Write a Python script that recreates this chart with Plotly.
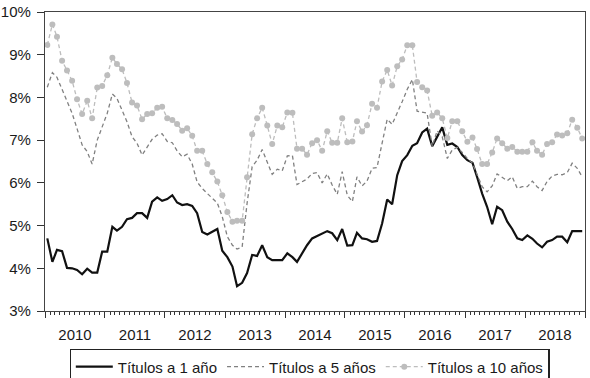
import pandas as pd
import plotly.graph_objects as go

# Monthly observations, Jan 2010 - Dec 2018
months = pd.date_range("2010-01-01", periods=108, freq="MS") + pd.Timedelta(days=14)

tit_1 = [
    4.70, 4.15, 4.43, 4.40, 4.01, 4.00, 3.96, 3.86, 3.99, 3.90, 3.90, 4.39,
    4.39, 4.97, 4.88, 4.97, 5.15, 5.18, 5.29, 5.29, 5.18, 5.56, 5.66, 5.58,
    5.62, 5.71, 5.54, 5.48, 5.50, 5.46, 5.29, 4.85, 4.79, 4.85, 4.92, 4.41,
    4.26, 4.04, 3.58, 3.66, 3.89, 4.31, 4.29, 4.54, 4.26, 4.19, 4.19, 4.19,
    4.35, 4.26, 4.15, 4.36, 4.54, 4.70, 4.76, 4.82, 4.87, 4.82, 4.66, 4.92,
    4.53, 4.54, 4.83, 4.70, 4.68, 4.62, 4.64, 5.05, 5.61, 5.50, 6.18, 6.51,
    6.65, 6.87, 6.93, 7.18, 7.27, 6.86, 7.08, 7.30, 6.89, 6.92, 6.84, 6.65,
    6.53, 6.47, 6.14, 5.75, 5.44, 5.03, 5.44, 5.36, 5.09, 4.92, 4.70, 4.66,
    4.77, 4.69, 4.58, 4.49, 4.62, 4.66, 4.74, 4.74, 4.61, 4.87, 4.87, 4.87,
]

tit_5 = [
    8.24, 8.58, 8.47, 8.19, 7.94, 7.63, 7.27, 6.89, 6.73, 6.44, 7.00, 7.31,
    7.63, 8.08, 7.98, 7.70, 7.43, 7.08, 6.93, 6.65, 6.85, 7.02, 7.12, 7.15,
    6.97, 6.94, 6.75, 6.61, 6.67, 6.44, 6.02, 5.87, 5.75, 5.64, 5.53, 5.21,
    4.74, 4.54, 4.45, 4.50, 5.52, 6.38, 6.53, 6.78, 6.46, 6.20, 6.32, 6.28,
    6.63, 6.64, 5.96, 6.03, 6.09, 6.22, 6.24, 6.00, 6.21, 5.95, 5.73, 6.26,
    5.71, 5.56, 6.14, 5.93, 6.04, 6.34, 6.36, 6.93, 7.49, 7.37, 7.63, 7.90,
    8.19, 8.42, 7.68, 7.65, 7.63, 6.85, 7.22, 7.08, 6.57, 6.77, 6.83, 6.71,
    6.57, 6.46, 6.21, 5.91, 5.79, 5.93, 6.21, 6.14, 6.05, 6.14, 5.87, 5.91,
    5.91, 6.04, 5.91, 5.82, 6.03, 6.16, 6.20, 6.19, 6.24, 6.46, 6.34, 6.14,
]

tit_10 = [
    9.23, 9.71, 9.42, 8.86, 8.63, 8.39, 7.96, 7.61, 7.92, 7.51, 8.23, 8.27,
    8.52, 8.93, 8.78, 8.66, 8.34, 7.88, 7.81, 7.49, 7.61, 7.63, 7.76, 7.78,
    7.51, 7.47, 7.38, 7.22, 7.28, 7.10, 6.75, 6.75, 6.44, 6.25, 6.03, 5.71,
    5.32, 5.09, 5.11, 5.11, 6.13, 7.14, 7.51, 7.76, 7.34, 6.91, 7.34, 7.30,
    7.65, 7.64, 6.80, 6.80, 6.66, 6.93, 7.00, 6.75, 7.21, 6.94, 6.94, 7.51,
    6.95, 6.97, 7.44, 7.20, 7.35, 7.85, 7.76, 8.37, 8.64, 8.28, 8.73, 8.89,
    9.22, 9.22, 8.36, 8.24, 8.16, 7.57, 7.65, 7.51, 7.05, 7.44, 7.44, 7.21,
    6.96, 7.06, 6.79, 6.44, 6.44, 6.71, 7.04, 6.93, 6.80, 6.84, 6.73, 6.73,
    6.73, 6.95, 6.75, 6.66, 6.91, 6.95, 7.13, 7.11, 7.16, 7.48, 7.29, 7.04,
]

names = ["Títulos a 1 año", "Títulos a 5 años", "Títulos a 10 años"]
y_ticks = [3, 4, 5, 6, 7, 8, 9, 10]
y_tick_labels = ["3%", "4%", "5%", "6%", "7%", "8%", "9%", "10%"]

FONT = "Liberation Sans, Arial, sans-serif"

fig = go.Figure()
fig.add_trace(go.Scatter(
    x=months, y=tit_1, name=names[0], mode="lines",
    line=dict(color="#111111", width=2.2),
))
fig.add_trace(go.Scatter(
    x=months, y=tit_5, name=names[1], mode="lines",
    line=dict(color="#808080", width=1.3, dash="4px,3px"),
))
fig.add_trace(go.Scatter(
    x=months, y=tit_10, name=names[2], mode="lines+markers",
    line=dict(color="#bdbdbd", width=1.3, dash="4px,3px"),
    marker=dict(color="#bdbdbd", size=6),
))

fig.update_layout(
    width=590, height=378,
    margin=dict(l=45, r=5, t=12, b=67, autoexpand=False),
    paper_bgcolor="white", plot_bgcolor="white",
    font=dict(family=FONT, size=15, color="#1a1a1a"),
    showlegend=True,
    legend=dict(
        orientation="h", x=0.49, xanchor="center", y=-0.128, yanchor="top",
        bordercolor="#222222", borderwidth=1.2,
        font=dict(family=FONT, size=15, color="#1a1a1a"),
        tracegroupgap=0, itemwidth=37,
    ),
)

fig.update_xaxes(
    type="date",
    range=["2010-01-01", "2019-01-01"],
    tick0="2010-01-01", dtick="M12",
    ticklabelmode="period", tickformat="%Y",
    ticks="outside", ticklen=6, tickwidth=1, tickcolor="#333333",
    minor=dict(dtick="M1", ticks="outside", ticklen=3, tickwidth=1,
               tickcolor="#333333", showgrid=False),
    showgrid=False, zeroline=False,
    showline=True, linecolor="#444444", linewidth=1.3, mirror=True,
    ticklabelstandoff=4,
    tickfont=dict(family=FONT, size=15, color="#1a1a1a"),
)

fig.update_yaxes(
    range=[3, 10], tickmode="array", tickvals=y_ticks, ticktext=y_tick_labels,
    ticks="outside", ticklen=7, tickwidth=1, tickcolor="#333333",
    showgrid=False, zeroline=False,
    showline=True, linecolor="#444444", linewidth=1.3, mirror=True,
    ticklabelstandoff=3,
    tickfont=dict(family=FONT, size=15, color="#1a1a1a"),
)

fig.write_html(
    "out.html",
    config={"displayModeBar": False},
    post_script="document.body.style.margin='0';document.body.style.overflow='hidden';",
)
